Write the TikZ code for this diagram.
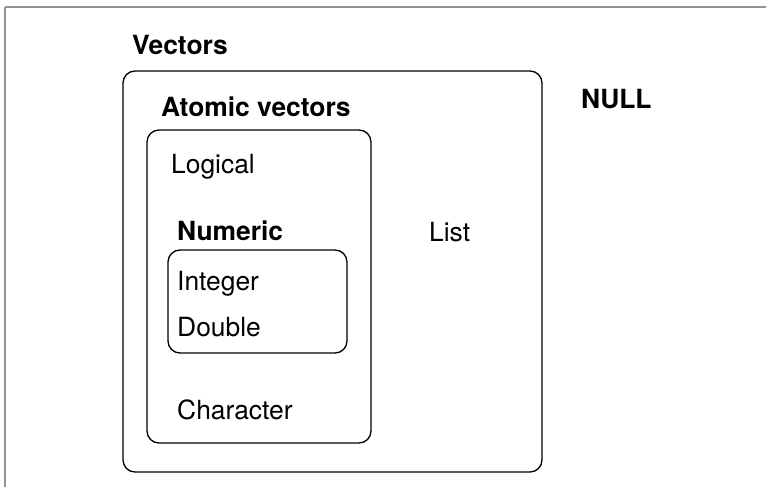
\documentclass[tikz,border=0pt]{standalone}
\usepackage{fontspec}
\setmainfont{TeX Gyre Heros}
\usepackage{tikz}
\usetikzlibrary{positioning}
\tikzset{
  typebox/.style={draw=black,line width=1.3pt,rounded corners=12pt,inner sep=0pt},
  typename/.style={anchor=base west,inner sep=0pt,font=\fontsize{26.4}{31}\selectfont},
  groupname/.style={typename,font=\fontsize{26.4}{31}\selectfont\bfseries},
  frameline/.style={gray!85,line width=1.2pt}
}

\begin{document}
\begin{tikzpicture}[x=1pt,y=-1pt]
\useasboundingbox (0,0) rectangle (766,487);
\coordinate (topleft) at (5,7);
\coordinate (topright) at (766,7);
\coordinate (bottomleft) at (5,487);
\draw[frameline,line width=2pt] (topleft)--(topright);
\draw[frameline] (topleft)--(bottomleft);
% nested boxes
\node[typebox,minimum width=419pt,minimum height=401pt] (vectors) at (332.5,271.5) {};
\node[typebox,minimum width=224pt,minimum height=313pt] (atomic) at (259,286.5) {};
\node[typebox,minimum width=179pt,minimum height=103pt] (numeric) at (257.5,301.5) {};
% group titles
\node[groupname] (vectorslabel) at (132,55) {Vectors};
\node[groupname] (atomiclabel) at (161,116) {Atomic vectors};
\node[groupname] (numericlabel) at (177,240) {Numeric};
\node[groupname] (nulllabel) at (581,109) {NULL};
% leaf types
\node[typename] (logical) at (171,173) {Logical};
\node[typename] (list) at (429,241) {List};
\node[typename] (integer) at (177,290) {Integer};
\node[typename] (double) at (177,336) {Double};
\node[typename] (character) at (177,419) {Character};
\end{tikzpicture}
\end{document}
